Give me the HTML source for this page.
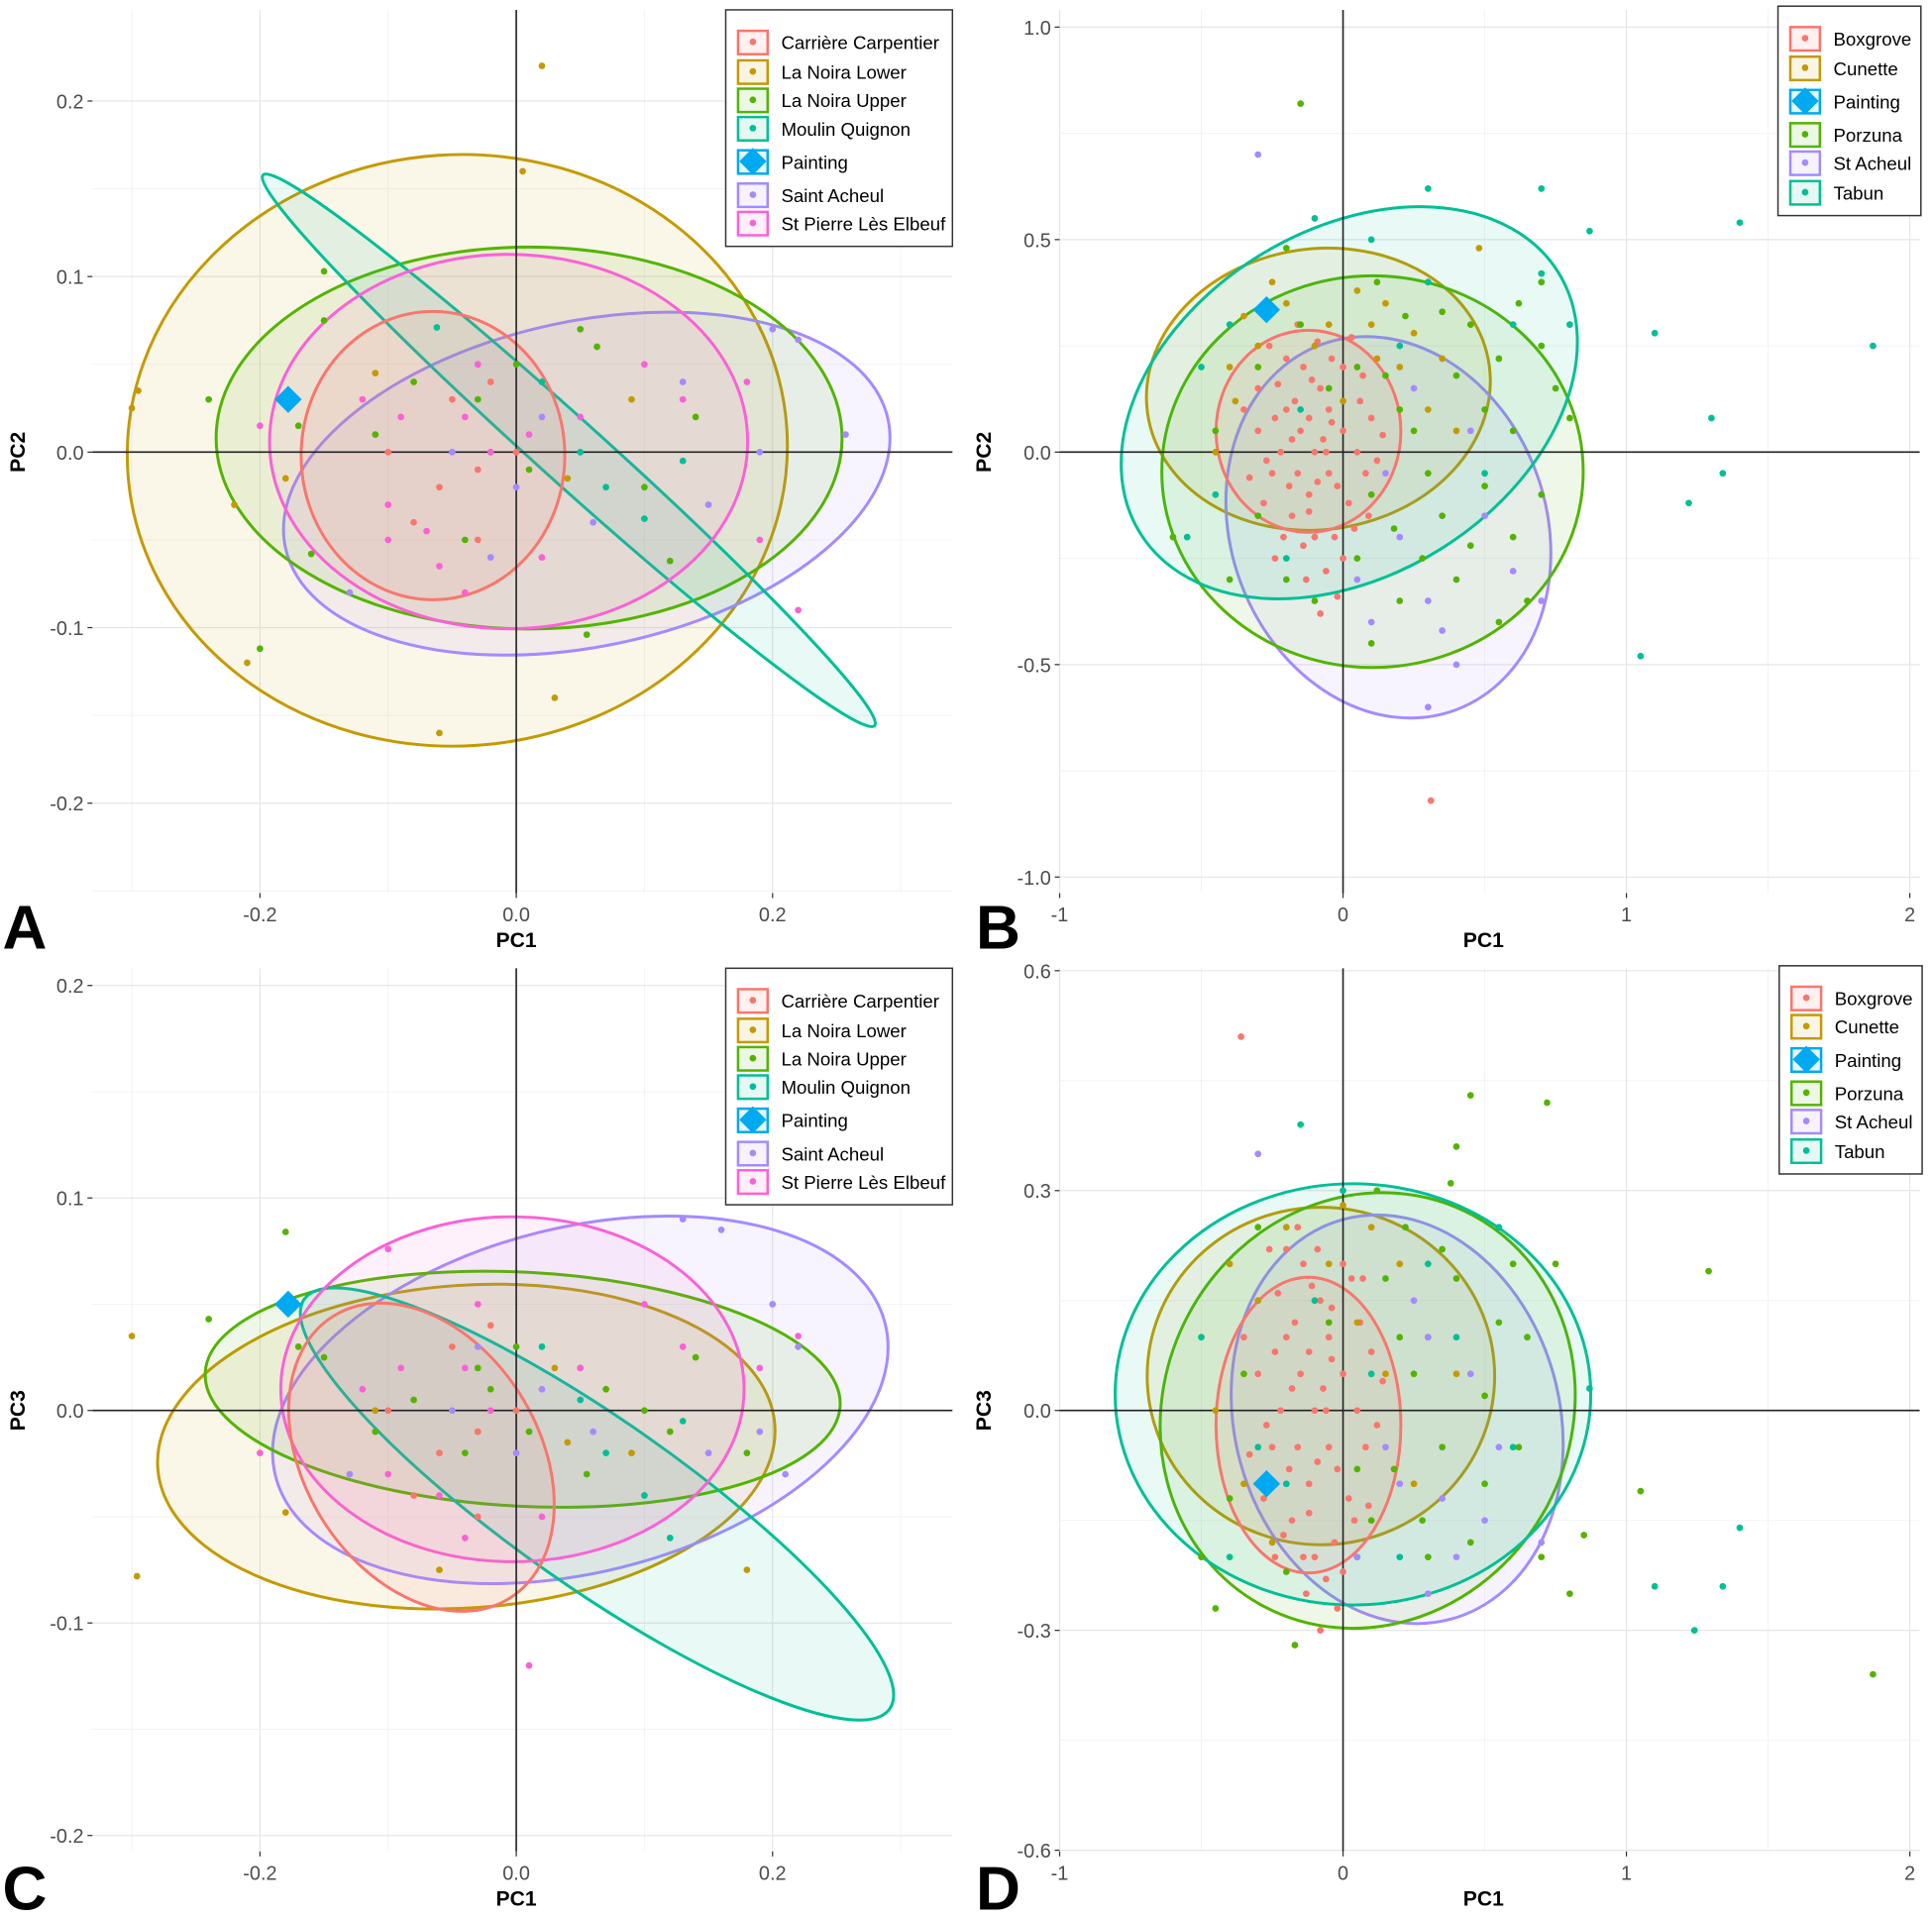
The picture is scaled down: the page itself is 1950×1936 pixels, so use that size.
<!DOCTYPE html>
<html><head><meta charset="utf-8"><style>
html,body{margin:0;padding:0;background:#fff}
svg{display:block}
text{font-family:"Liberation Sans",sans-serif}
</style></head><body>
<svg id="fig" width="1950" height="1936" viewBox="0 0 1568 1557" preserveAspectRatio="none" xmlns="http://www.w3.org/2000/svg"></svg>
<script>
// ---------- DATA ----------
const colors = {red:"#F8766D",gold:"#C49A00",green:"#53B400",teal:"#00BF96",paint:"#00A9F0",purple:"#A58AFF",pink:"#FB61D7"};
const legendA = ["Carrière Carpentier","La Noira Lower","La Noira Upper","Moulin Quignon","Painting","Saint Acheul","St Pierre Lès Elbeuf"];
const legendAKeys = ["red","gold","green","teal","paint","purple","pink"];
const legendB = ["Boxgrove","Cunette","Painting","Porzuna","St Acheul","Tabun"];
const legendBKeys = ["red","gold","paint","green","purple","teal"];
const ticksAx = [-0.2,0,0.2]; const ticksAxLabels = ["-0.2","0.0","0.2"];
const ticksAy = [-0.2,-0.1,0,0.1,0.2]; const ticksAyLabels = ["-0.2","-0.1","0.0","0.1","0.2"];
const ticksBx = [-1,0,1,2]; const ticksBxLabels = ["-1","0","1","2"];
const ticksBy = [-1,-0.5,0,0.5,1]; const ticksByLabels = ["-1.0","-0.5","0.0","0.5","1.0"];
const ticksDy = [-0.6,-0.3,0,0.3,0.6]; const ticksDyLabels = ["-0.6","-0.3","0.0","0.3","0.6"];

// ellipses: [colorKey, cx, cy, a(px), b(px), angle(deg)]
const ellA = [["gold",-0.046,0.001,268,240,-4],["purple",0.055,-0.018,250,132,-12],["green",0.01,0.008,254,155,0],["teal",0.041,0.001,334,26,42],["pink",-0.006,0.006,194,152,0],["red",-0.065,-0.002,107,117,0]];
const ellB = [["gold",-0.087,0.148,140,114,-8],["purple",0.16,-0.177,128,158,-20],["green",0.104,-0.046,171,159,0],["teal",0.022,0.116,200,140,-32],["red",-0.122,0.049,75,82,0]];
const ellC = [["gold",-0.039,-0.017,251,131,-4],["purple",0.05,0.005,255,140,-14],["green",0.005,0.01,258,95,3],["teal",0.063,-0.044,290,68,35],["pink",-0.003,0.01,188,140,0],["red",-0.074,-0.022,135,95,58]];
const ellD = [["gold",-0.078,0.047,141,137,0],["purple",0.191,-0.012,132,168,-15],["green",0.087,0.0,165,180,28],["teal",0.035,0.022,193,171,0],["red",-0.122,-0.02,75,120,0]];

// points [x,y]
const ptsA = {
 gold:[[-0.30,0.025],[-0.295,0.035],[-0.21,-0.12],[0.02,0.22],[0.005,0.16],[0.03,-0.14],[-0.06,-0.16],[-0.22,-0.03],[0.09,0.03],[-0.11,0.045],[0.04,-0.015],[-0.18,-0.015]],
 green:[[-0.24,0.03],[-0.2,-0.112],[-0.15,0.103],[-0.15,0.075],[-0.11,0.01],[0.05,0.07],[0.063,0.06],[0.14,0.02],[0.12,-0.062],[0.055,-0.104],[-0.02,0.0],[0.0,0.05],[-0.04,-0.05],[0.1,-0.02],[-0.03,0.03],[-0.17,0.015],[-0.08,0.04],[0.01,-0.01],[-0.16,-0.058]],
 teal:[[-0.062,0.071],[0.05,0.0],[0.07,-0.02],[0.02,0.04],[0.13,-0.005],[0.1,-0.038]],
 purple:[[-0.03,0.05],[-0.05,0.0],[0.0,-0.02],[0.2,0.07],[0.22,0.064],[0.257,0.01],[0.13,0.04],[-0.02,-0.06],[0.06,-0.04],[0.19,0.0],[-0.13,-0.08],[0.15,-0.03],[0.02,0.02]],
 pink:[[-0.2,0.015],[-0.1,-0.03],[-0.06,-0.065],[-0.04,-0.08],[-0.09,0.02],[-0.03,0.05],[0.22,-0.09],[0.19,-0.05],[0.13,0.03],[0.02,-0.06],[-0.04,0.02],[0.05,0.02],[0.1,0.05],[0.18,0.04],[-0.1,-0.05],[0.01,0.01],[-0.12,0.03],[-0.02,0.0],[-0.07,-0.045]],
 red:[[-0.06,-0.02],[-0.05,0.03],[-0.1,0.0],[0.0,0.0],[-0.03,-0.01],[-0.02,0.04],[-0.08,-0.04],[-0.03,-0.05]]
};
const paintA = [-0.178,0.03];
const ptsC = {
 gold:[[-0.30,0.035],[-0.296,-0.078],[-0.18,-0.048],[0.03,0.02],[-0.06,-0.075],[0.09,-0.02],[-0.11,0.0],[0.18,-0.075],[0.04,-0.015],[-0.03,-0.01]],
 green:[[-0.18,0.084],[-0.24,0.043],[-0.15,0.025],[-0.11,-0.01],[0.05,0.02],[0.07,0.01],[0.14,0.025],[0.12,-0.01],[0.055,-0.03],[-0.02,0.01],[0.0,0.03],[-0.04,-0.02],[0.1,0.0],[-0.03,0.02],[-0.17,0.03],[-0.08,0.005],[0.01,-0.01],[0.18,-0.02]],
 teal:[[0.05,0.005],[0.07,-0.02],[0.02,0.03],[0.13,-0.005],[0.1,-0.04],[0.12,-0.06]],
 purple:[[-0.03,0.03],[-0.05,0.0],[0.0,-0.02],[0.2,0.05],[0.22,0.03],[0.13,0.09],[0.16,0.085],[0.06,-0.01],[0.19,-0.01],[-0.13,-0.03],[0.15,-0.02],[0.02,0.01],[0.21,-0.03]],
 pink:[[-0.2,-0.02],[-0.1,-0.03],[-0.06,-0.04],[-0.04,-0.06],[-0.09,0.02],[-0.03,0.05],[0.22,0.035],[0.19,0.02],[0.13,0.03],[0.02,-0.05],[-0.04,0.02],[0.05,0.02],[0.1,0.05],[-0.1,0.076],[-0.12,0.01],[0.01,-0.12],[-0.02,0.0]],
 red:[[-0.06,-0.02],[-0.05,0.03],[-0.1,0.0],[0.0,0.0],[-0.03,-0.01],[-0.02,0.04],[-0.08,-0.04],[-0.03,-0.05]]
};
const paintC = [-0.178,0.05];
const ptsB = {
 red:[[-0.1,0.0],[-0.15,0.05],[-0.05,-0.05],[-0.2,0.1],[-0.12,-0.1],[0.0,0.05],[-0.25,-0.05],[-0.08,0.15],[-0.18,-0.15],[0.02,-0.12],[-0.3,0.05],[-0.05,0.1],[-0.14,0.2],[-0.22,0.0],[0.05,0.0],[-0.1,-0.2],[-0.03,-0.2],[-0.28,-0.12],[0.1,0.08],[-0.16,-0.05],[-0.06,0.0],[-0.2,0.22],[0.0,-0.25],[-0.12,0.08],[0.31,-0.82],[-0.35,0.1],[0.08,-0.05],[-0.13,-0.3],[-0.24,-0.25],[0.0,0.2],
  [-0.07,0.03],[-0.17,0.12],[-0.11,0.17],[-0.04,0.22],[-0.23,0.16],[-0.27,-0.02],[-0.19,-0.08],[-0.09,-0.07],[-0.02,-0.08],[0.04,-0.18],[-0.14,-0.22],[-0.21,-0.2],[-0.06,-0.28],[0.06,0.12],[0.03,0.27],[-0.09,0.26],[-0.16,0.3],[-0.33,-0.06],[-0.3,0.15],[0.09,-0.15],[0.12,-0.02],[-0.12,-0.14],[-0.02,-0.34],[-0.18,0.03],[-0.04,0.07],[-0.24,0.08],[0.07,0.18],[-0.08,-0.38],[-0.26,0.25],[0.14,0.04]],
 gold:[[-0.3,0.25],[-0.4,0.2],[0.48,0.48],[-0.2,0.35],[0.1,0.3],[0.2,0.2],[-0.05,0.3],[0.3,0.1],[-0.45,0.0],[0.15,0.35],[0.4,0.05],[-0.35,0.32],[0.05,0.38],[-0.1,0.25],[0.25,0.28],[-0.25,0.4],[0.35,0.22],[0.0,0.12],[-0.38,0.12],[0.12,0.22]],
 green:[[-0.15,0.3],[0.3,0.4],[0.5,0.1],[0.6,-0.2],[0.4,-0.3],[0.7,0.25],[-0.1,-0.35],[0.2,-0.35],[0.55,-0.4],[-0.2,0.48],[0.05,0.2],[0.3,-0.05],[-0.4,-0.3],[0.7,-0.1],[-0.6,-0.2],[0.1,-0.45],[0.45,0.3],[0.2,0.1],[-0.3,-0.15],[0.6,0.05],[0.65,-0.35],[-0.15,0.82],[0.75,0.15],
  [0.15,0.18],[0.25,0.05],[0.35,-0.15],[0.1,-0.1],[-0.05,0.15],[0.4,0.18],[0.55,0.22],[0.28,-0.25],[0.45,-0.22],[0.05,-0.25],[-0.2,-0.3],[0.62,0.35],[0.22,0.32],[-0.3,0.2],[0.5,-0.08],[0.18,-0.18],[0.8,0.08],[0.35,0.33],[-0.45,0.05],[0.12,0.4],[0.7,0.4]],
 purple:[[-0.3,0.7],[0.2,-0.2],[0.4,-0.5],[0.3,-0.35],[0.5,-0.15],[0.7,-0.35],[0.15,-0.05],[0.3,-0.6],[0.05,-0.3],[0.45,0.05],[0.25,0.15],[0.1,-0.4],[0.6,-0.28],[0.35,-0.42]],
 teal:[[1.4,0.54],[1.87,0.25],[1.3,0.08],[1.34,-0.05],[1.22,-0.12],[1.1,0.28],[1.05,-0.48],[0.7,0.62],[0.87,0.52],[0.3,0.62],[0.7,0.42],[-0.1,0.55],[-0.5,0.2],[-0.55,-0.2],[0.1,0.5],[0.5,-0.05],[-0.2,-0.25],[0.8,0.3],[-0.4,0.3],[0.3,0.4],[-0.45,-0.1],[0.6,0.3],[-0.15,0.1],[0.2,0.25]]
};
const paintB = [-0.27,0.335];
const ptsD = {
 red:[[-0.1,0.0],[-0.15,0.05],[-0.05,-0.05],[-0.2,0.1],[-0.12,-0.1],[0.0,0.05],[-0.25,-0.05],[-0.08,0.15],[-0.18,-0.15],[0.02,-0.12],[-0.3,0.05],[-0.05,0.1],[-0.14,0.2],[-0.22,0.0],[0.05,0.0],[-0.1,-0.2],[-0.03,-0.18],[-0.28,-0.12],[0.1,0.08],[-0.16,-0.05],[-0.06,0.0],[-0.2,0.22],[0.0,-0.22],[-0.12,0.08],[-0.36,0.51],[-0.35,0.1],[0.08,-0.05],[-0.13,-0.25],[-0.24,-0.2],[0.0,0.2],
  [-0.07,0.03],[-0.17,0.12],[-0.11,0.17],[-0.04,0.14],[-0.23,0.16],[-0.27,-0.02],[-0.19,-0.08],[-0.09,-0.07],[-0.02,-0.08],[0.04,-0.15],[-0.14,-0.2],[-0.21,-0.17],[-0.06,-0.23],[0.06,0.12],[0.03,0.18],[-0.09,0.22],[-0.16,0.25],[-0.33,-0.06],[-0.3,0.15],[0.09,-0.13],[0.12,-0.02],[-0.12,-0.14],[-0.02,-0.27],[-0.18,0.03],[-0.04,0.07],[-0.24,0.08],[0.07,0.18],[-0.08,-0.3],[-0.26,0.22],[0.14,0.04]],
 gold:[[-0.3,0.15],[-0.4,0.2],[0.2,0.2],[-0.2,0.25],[0.1,0.25],[-0.05,0.2],[0.3,0.1],[-0.45,0.0],[0.15,0.05],[0.4,0.05],[-0.35,-0.1],[0.05,0.12],[-0.25,-0.18],[0.25,-0.1],[0.0,0.28]],
 green:[[0.45,0.43],[0.72,0.42],[0.4,0.36],[0.38,0.31],[1.05,-0.11],[1.29,0.19],[1.87,-0.36],[0.85,-0.17],[0.8,-0.25],[-0.17,-0.32],[0.3,-0.2],[0.6,0.2],[-0.5,-0.2],[0.5,-0.1],[-0.45,-0.27],[0.2,0.1],[0.1,-0.15],[0.7,-0.2],[0.75,0.2],[-0.3,0.25],
  [0.15,0.18],[0.25,0.05],[0.35,-0.05],[0.05,-0.08],[-0.05,0.12],[0.4,0.18],[0.55,0.12],[0.28,-0.15],[0.45,-0.18],[0.05,-0.2],[-0.2,-0.22],[0.62,-0.05],[0.22,0.25],[-0.35,0.05],[0.5,0.02],[0.18,-0.08],[0.12,0.3],[0.35,0.22],[-0.4,-0.12],[0.65,0.1]],
 purple:[[-0.3,0.35],[0.2,-0.1],[0.4,-0.2],[0.3,-0.25],[0.5,-0.15],[0.7,-0.18],[0.15,-0.05],[0.3,0.1],[0.05,-0.2],[0.45,0.05],[0.25,0.15],[0.35,-0.12],[0.55,-0.05]],
 teal:[[1.4,-0.16],[1.34,-0.24],[1.24,-0.3],[1.1,-0.24],[-0.15,0.39],[0.87,0.03],[0.55,0.25],[-0.5,0.1],[-0.4,-0.2],[0.6,-0.05],[0.0,0.3],[0.3,0.2],[-0.2,-0.1],[0.2,-0.2],[0.1,0.05],[-0.3,-0.05],[0.4,0.1],[-0.1,0.15]]
};
const paintD = [-0.27,-0.1];

// ---------- DRAW ----------
const svg = document.getElementById('fig');
const NS = "http://www.w3.org/2000/svg";
function mk(tag, attrs, parent){const e=document.createElementNS(NS,tag);for(const k in attrs)e.setAttribute(k,attrs[k]);(parent||svg).appendChild(e);return e;}
function scaleLin(d0,d1,r0,r1){return v=>r0+(v-d0)*(r1-r0)/(d1-d0);}

function panel(cfg){
 const g = mk('g',{});
 
 
 const X = scaleLin(cfg.xd[0],cfg.xd[1],cfg.xr[0],cfg.xr[1]);
 const Y = scaleLin(cfg.yd[0],cfg.yd[1],cfg.yr[0],cfg.yr[1]);
 const L=cfg.box[0],T=cfg.box[1],R=cfg.box[2],B=cfg.box[3];
 cfg.xminor.forEach(v=>{const l=mk('line',{x1:X(v),x2:X(v),y1:T,y2:B,stroke:"#f3f3f3","stroke-width":0.8},g);});
 cfg.yminor.forEach(v=>{const l=mk('line',{x1:L,x2:R,y1:Y(v),y2:Y(v),stroke:"#f3f3f3","stroke-width":0.8},g);});
 cfg.xt.forEach(v=>{const l=mk('line',{x1:X(v),x2:X(v),y1:T,y2:B,stroke:"#e6e6e6","stroke-width":1},g);});
 cfg.yt.forEach(v=>{const l=mk('line',{x1:L,x2:R,y1:Y(v),y2:Y(v),stroke:"#e6e6e6","stroke-width":1},g);});
 cfg.ell.forEach(e=>{
  const el=mk('ellipse',{cx:0,cy:0,rx:e[3],ry:e[4],fill:colors[e[0]],"fill-opacity":0.09,stroke:colors[e[0]],"stroke-width":2.4,transform:`translate(${X(e[1])},${Y(e[2])}) rotate(${e[5]})`},g);
  
  
 });
 const ax=mk('line',{x1:L,x2:R,y1:Y(0),y2:Y(0),stroke:"#222","stroke-width":1.3},g);
 
 const ay=mk('line',{x1:X(0),x2:X(0),y1:T,y2:B,stroke:"#222","stroke-width":1.3},g);
 
 for(const k in cfg.pts){cfg.pts[k].forEach(p=>{
  const c=mk('circle',{cx:X(p[0]),cy:Y(p[1]),r:2.7,fill:colors[k]},g);
  
  
 });}
 const px=X(cfg.paint[0]),py=Y(cfg.paint[1]);
 const d=mk('polygon',{points:`${px},${py-11} ${px+11},${py} ${px},${py+11} ${px-11},${py}`,fill:colors.paint},g);
 
 cfg.xt.forEach((v,i)=>{
  mk('line',{x1:X(v),x2:X(v),y1:B,y2:B+4,stroke:"#333","stroke-width":1},g);
  const t=mk('text',{x:X(v),y:B+23,"font-size":16,fill:"#4d4d4d","text-anchor":"middle"},g);t.textContent=cfg.xtl[i];
  
 });
 cfg.yt.forEach((v,i)=>{
  mk('line',{x1:L-4,x2:L,y1:Y(v),y2:Y(v),stroke:"#333","stroke-width":1},g);
  const t=mk('text',{x:L-7,y:Y(v)+6,"font-size":16,fill:"#4d4d4d","text-anchor":"end"},g);t.textContent=cfg.ytl[i];
  
 });
 const xt=mk('text',{x:(L+R)/2-5,y:B+44,"font-size":17,"font-weight":"bold","text-anchor":"middle",fill:"#000"},g);xt.textContent="PC1";
 
 const yt=mk('text',{x:0,y:0,"font-size":17,"font-weight":"bold","text-anchor":"middle",fill:"#000",transform:`translate(${cfg.ytx},${Y(0)}) rotate(-90)`},g);yt.textContent=cfg.ytitle;
 
 const lt=mk('text',{x:cfg.letter[0],y:cfg.letter[1],"font-size":50,"font-weight":"bold",fill:"#000"},g);lt.textContent=cfg.letterText;
 
 const lg=cfg.legend;
 const lgG=mk('g',{},g);
 
 mk('rect',{x:lg.x,y:lg.y,width:lg.w,height:lg.h,fill:"#fff",stroke:"#333","stroke-width":1.2},lgG);
 lg.labels.forEach((lab,i)=>{
  const cy=lg.ys[i], key=lg.keys[i], cx=lg.x+22;
  const eg=mk('g',{},lgG);
  
  
  mk('rect',{x:cx-12,y:cy-9,width:24,height:19,fill:colors[key],"fill-opacity":0.1,stroke:colors[key],"stroke-width":2},eg);
  if(key==="paint") mk('polygon',{points:`${cx},${cy-11} ${cx+11},${cy} ${cx},${cy+11} ${cx-11},${cy}`,fill:colors.paint},eg);
  else mk('circle',{cx:cx,cy:cy,r:2.7,fill:colors[key]},eg);
  const t=mk('text',{x:lg.x+45,y:cy+6,"font-size":15,fill:"#000"},eg);t.textContent=lab;
 });
}

const minorA=[-0.3,-0.1,0.1,0.3];
panel({name:"panel-a",xd:[0,0.2],xr:[419,627],yd:[0,0.2],yr:[367,82],box:[75,8,773,725],
 xt:ticksAx,xtl:ticksAxLabels,yt:ticksAy,ytl:ticksAyLabels,xminor:minorA,yminor:[-0.25,-0.15,-0.05,0.05,0.15],
 ell:ellA,pts:ptsA,paint:paintA,ytitle:"PC2",ytx:20,letter:[2,770],letterText:"A",
 legend:{x:589,y:8,w:184,h:192,labels:legendA,keys:legendAKeys,ys:[34,58,81,104,131,158,181]}});
panel({name:"panel-b",xd:[0,1],xr:[1090,1320],yd:[0,1],yr:[367,22],box:[860,8,1558,725],
 xt:ticksBx,xtl:ticksBxLabels,yt:ticksBy,ytl:ticksByLabels,xminor:[-0.5,0.5,1.5],yminor:[-0.75,-0.25,0.25,0.75],
 ell:ellB,pts:ptsB,paint:paintB,ytitle:"PC2",ytx:804,letter:[792,770],letterText:"B",
 legend:{x:1443,y:5,w:116,h:170,labels:legendB,keys:legendBKeys,ys:[31,55,82,109,132,156]}});
panel({name:"panel-c",xd:[0,0.2],xr:[419,627],yd:[0,0.2],yr:[1145,800],box:[75,786,773,1503],
 xt:ticksAx,xtl:ticksAxLabels,yt:ticksAy,ytl:ticksAyLabels,xminor:minorA,yminor:[-0.15,-0.05,0.05,0.15],
 ell:ellC,pts:ptsC,paint:paintC,ytitle:"PC3",ytx:20,letter:[2,1550],letterText:"C",
 legend:{x:589,y:786,w:184,h:192,labels:legendA,keys:legendAKeys,ys:[812,836,859,882,909,936,959]}});
panel({name:"panel-d",xd:[0,1],xr:[1090,1320],yd:[0,0.6],yr:[1145,788],box:[860,786,1558,1503],
 xt:ticksBx,xtl:ticksBxLabels,yt:ticksDy,ytl:ticksDyLabels,xminor:[-0.5,0.5,1.5],yminor:[-0.45,-0.15,0.15,0.45],
 ell:ellD,pts:ptsD,paint:paintD,ytitle:"PC3",ytx:804,letter:[792,1550],letterText:"D",
 legend:{x:1444,y:784,w:116,h:169,labels:legendB,keys:legendBKeys,ys:[810,833,860,887,910,934]}});
</script>
</body></html>
